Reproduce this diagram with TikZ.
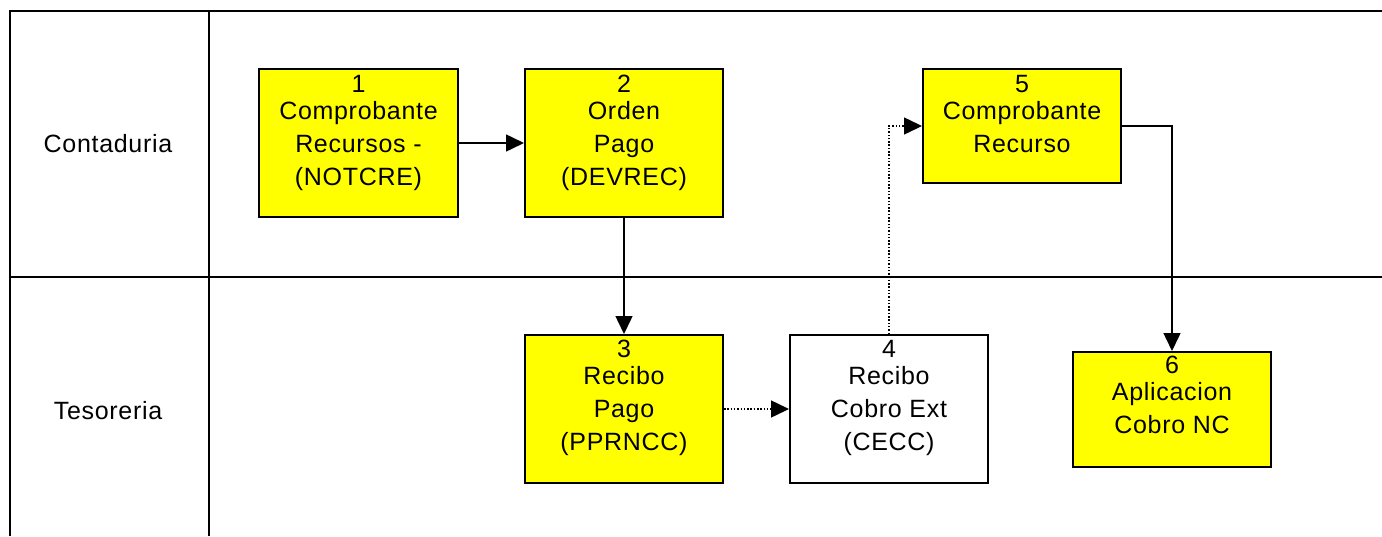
\documentclass[tikz,border=0pt]{standalone}
\usepackage{fontspec}
\setmainfont{Liberation Sans}[LetterSpace=2.8]
\usetikzlibrary{arrows.meta}
\definecolor{boxyellow}{RGB}{255,255,0}
\tikzset{
  flowbox/.style={draw=black, line width=2pt, fill=boxyellow, inner sep=0pt},
  whitebox/.style={draw=black, line width=2pt, fill=white, inner sep=0pt},
  boxtext/.style={anchor=base, inner sep=0pt, font=\fontsize{25}{33}\selectfont},
  lanetext/.style={anchor=base, inner sep=0pt, font=\fontsize{25}{33}\selectfont},
  frame/.style={line width=2pt, draw=black},
  flow/.style={line width=1.5pt, -{Triangle[length=18pt,width=17pt]}},
  dotflow/.style={line width=1.5pt, dash pattern=on 1.5pt off 1.8pt, -{Triangle[length=18pt,width=17pt]}},
}
\begin{document}
\begin{tikzpicture}[x=1pt,y=-1pt]
\useasboundingbox (0,0) rectangle (1382,536);
% pool frame
\coordinate (tl) at (10,11);
\coordinate (tr) at (1382,11);
\coordinate (bl) at (10,536);
\coordinate (vt) at (209,11);
\coordinate (vb) at (209,536);
\coordinate (ml) at (10,277);
\coordinate (mr) at (1382,277);
\draw[frame] (bl) -- (tl) -- (tr);
\draw[frame] (vt) -- (vb);
\draw[frame] (ml) -- (mr);
\node[lanetext] (lane1) at (108,152) {Contaduria};
\node[lanetext] (lane2) at (108,419) {Tesoreria};
% boxes
\node[flowbox, minimum width=199pt, minimum height=148pt] (b1) at (358.5,143) {};
\node[flowbox, minimum width=198pt, minimum height=148pt] (b2) at (624,143) {};
\node[flowbox, minimum width=198pt, minimum height=114pt] (b5) at (1022,126) {};
\node[flowbox, minimum width=198pt, minimum height=148pt] (b3) at (624,409) {};
\node[whitebox, minimum width=198pt, minimum height=148pt] (b4) at (889,409) {};
\node[flowbox, minimum width=198pt, minimum height=115pt] (b6) at (1172,409.5) {};
% texts
\node[boxtext] (t1) at (358.5,92) {\begin{tabular}[t]{@{}c@{}}1\\[-6pt]Comprobante\\Recursos -\\(NOTCRE)\end{tabular}};
\node[boxtext] (t2) at (624,92) {\begin{tabular}[t]{@{}c@{}}2\\[-6pt]Orden\\Pago\\(DEVREC)\end{tabular}};
\node[boxtext] (t5) at (1022,92) {\begin{tabular}[t]{@{}c@{}}5\\[-6pt]Comprobante\\Recurso\end{tabular}};
\node[boxtext] (t3) at (624,357) {\begin{tabular}[t]{@{}c@{}}3\\[-6pt]Recibo\\Pago\\(PPRNCC)\end{tabular}};
\node[boxtext] (t4) at (889,357) {\begin{tabular}[t]{@{}c@{}}4\\[-6pt]Recibo\\Cobro Ext\\(CECC)\end{tabular}};
\node[boxtext] (t6) at (1172,373) {\begin{tabular}[t]{@{}c@{}}6\\[-6pt]Aplicacion\\Cobro NC\end{tabular}};
% connectors
\draw[flow] (b1.east) -- (b2.west);
\draw[flow] (b2.south) -- (b3.north);
\draw[dotflow] (b3.east) -- (b4.west);
\draw[dotflow] (b4.north) |- (b5.west);
\draw[flow] (b5.east) -| (b6.north);
\end{tikzpicture}
\end{document}
